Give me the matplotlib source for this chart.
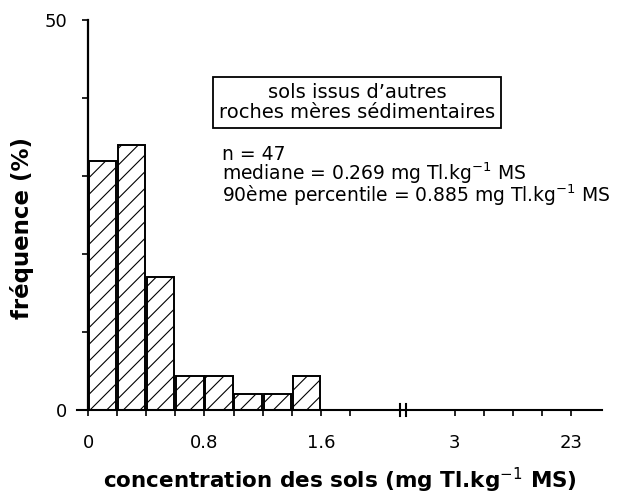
import numpy as np
import matplotlib
matplotlib.use("Agg")
import matplotlib.pyplot as plt

# histogram data (frequency in %)
bin_left = [0.0, 0.2, 0.4, 0.6, 0.8, 1.0, 1.2, 1.4]
bin_width = 0.2
freq = [31.9, 34.0, 17.0, 4.3, 4.3, 2.1, 2.1, 4.3]

# x ticks: linear part, then compressed part after the break
low_ticks = [0.0, 0.2, 0.4, 0.6, 0.8, 1.0, 1.2, 1.4, 1.6, 1.8]
high_ticks = [3, 8, 13, 18, 23]
x_labels = {0.0: "0", 0.8: "0.8", 1.6: "1.6", 3: "3", 23: "23"}
y_ticks = [0, 10, 20, 30, 40, 50]
y_labels = {0: "0", 50: "50"}

box_text = "sols issus d\u2019autres\nroches m\u00e8res s\u00e9dimentaires"
stats = ["n = 47",
         "mediane = 0.269 mg Tl.kg$^{-1}$ MS",
         "90\u00e8me percentile = 0.885 mg Tl.kg$^{-1}$ MS"]

# broken axis scale: 0.2 per unit up to the break, 5 per unit from 3 on
BRK, P_BRK, P3 = 2.164, 10.82, 12.6


def fwd(v):
    v = np.asarray(v, dtype=float)
    return np.where(v <= BRK, v / 0.2,
                    np.where(v < 3, P_BRK + (v - BRK) / (3 - BRK) * (P3 - P_BRK),
                             P3 + (v - 3) / 5))


def inv(p):
    p = np.asarray(p, dtype=float)
    return np.where(p <= P_BRK, p * 0.2,
                    np.where(p < P3, BRK + (p - P_BRK) / (P3 - P_BRK) * (3 - BRK),
                             3 + (p - P3) * 5))


plt.rcParams["font.family"] = "DejaVu Sans"
plt.rcParams["hatch.linewidth"] = 0.8

W, H = 639, 497
fig = plt.figure(figsize=(W / 100, H / 100), dpi=100)
ax = fig.add_axes([77 / W, (H - 410) / H, 525 / W, 390 / H])
ax.set_xscale("function", functions=(fwd, inv))

# each bar drawn a bit narrower than its bin, leaving a thin gap
gap = 0.006
ax.bar([b + gap for b in bin_left], freq, width=bin_width - 2 * gap, align="edge",
       color="white", edgecolor="black", linewidth=1.4, hatch="//")

ax.set_xlim(float(inv(-0.38)), float(inv(17.66)))
ax.set_ylim(0, 50)

for s in ["top", "right"]:
    ax.spines[s].set_visible(False)
ax.spines["left"].set_position(("data", 0))
ax.spines["left"].set_linewidth(1.6)
ax.spines["bottom"].set_linewidth(1.5)

xt = low_ticks + high_ticks
ax.set_xticks(xt)
ax.set_xticklabels([x_labels.get(t, "") for t in xt])
ax.xaxis.set_minor_locator(matplotlib.ticker.NullLocator())
ax.set_yticks(y_ticks)
ax.set_yticklabels([y_labels.get(t, "") for t in y_ticks])
ax.tick_params(axis="x", direction="out", length=4, width=1.2, pad=13, labelsize=13)
ax.tick_params(axis="y", direction="out", length=4, width=1.2, pad=11, labelsize=13)

# break marks on the x axis
for dp in (-0.09, 0.09):
    xb = float(inv(P_BRK + dp))
    ax.plot([xb, xb], [-0.016, 0.016], color="black", lw=1.5,
            transform=ax.get_xaxis_transform(), clip_on=False)

fig.text(340 / W, 1 - 480 / H, "concentration des sols (mg Tl.kg$^{-1}$ MS)",
         ha="center", va="center", fontsize=15.5, fontweight="bold")
fig.text(22 / W, 1 - 228 / H, "fr\u00e9quence (%)", rotation=90,
         ha="center", va="center", fontsize=16.5, fontweight="bold")

fig.text(357 / W, 1 - 102.5 / H, box_text, ha="center", va="center",
         fontsize=14, linespacing=1.1,
         bbox=dict(boxstyle="square,pad=0.3", fc="white", ec="black", lw=1.3))

fig.text(222 / W, 1 - 145 / H, "\n".join(stats), ha="left", va="top",
         fontsize=13.5, linespacing=0.82)

fig.savefig("out.png", dpi=100)
